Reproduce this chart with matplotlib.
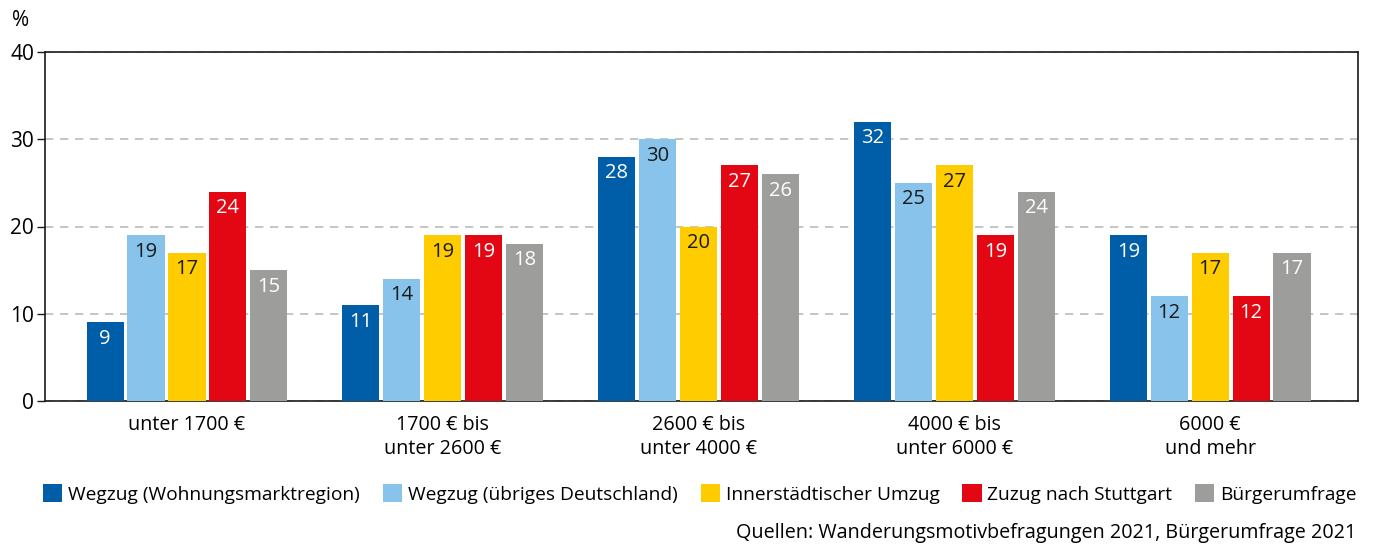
import numpy as np
import matplotlib.pyplot as plt

plt.rcParams['font.family'] = ['Open Sans', 'DejaVu Sans']

# data
categories = ['unter 1700 €', '1700 € bis\nunter 2600 €', '2600 € bis\nunter 4000 €',
              '4000 € bis\nunter 6000 €', '6000 €\nund mehr']
series = ['Wegzug (Wohnungsmarktregion)', 'Wegzug (übriges Deutschland)',
          'Innerstädtischer Umzug', 'Zuzug nach Stuttgart', 'Bürgerumfrage']
wegzug_wmr = [9, 11, 28, 32, 19]
wegzug_de = [19, 14, 30, 25, 12]
innerstaedt = [17, 19, 20, 27, 17]
zuzug = [24, 19, 27, 19, 12]
buergerumfrage = [15, 18, 26, 24, 17]
values = [wegzug_wmr, wegzug_de, innerstaedt, zuzug, buergerumfrage]

colors = ['#005EA8', '#87C3EA', '#FFCC00', '#E30613', '#9D9D9C']
text_colors = ['white', '#1a1a1a', '#1a1a1a', 'white', 'white']

fig = plt.figure(figsize=(13.73, 5.49), dpi=100)
ax = fig.add_axes([45/1373, 1 - 401/549, 1313/1373, 349/549])

x = np.arange(len(categories))
step = 0.16
width = 0.145
for i, (vals, c, tc, name) in enumerate(zip(values, colors, text_colors, series)):
    pos = x + (i - 2) * step
    ax.bar(pos, vals, width=width, color=c, label=name, zorder=3)
    for p, v in zip(pos, vals):
        ax.text(p, v - 0.75, str(v), ha='center', va='top', color=tc, fontsize=14.5, zorder=4)

ax.set_xlim(-0.555, 4.578)
ax.set_ylim(0, 40)
ax.set_yticks([0, 10, 20, 30, 40])
ax.tick_params(axis='y', labelsize=15, length=6, width=1, color='#1a1a1a', pad=2)
ax.set_xticks(x)
ax.set_xticklabels(categories, fontsize=14.2, linespacing=1.3)
ax.tick_params(axis='x', length=0, pad=10)
ax.yaxis.grid(True, linestyle=(0, (5, 4)), color='#bbbbbb', linewidth=1.2, zorder=0)
for s in ax.spines.values():
    s.set_color('#1a1a1a')
    s.set_linewidth(1.2)

fig.text(12/1373, 1 - 21/549, '%', fontsize=15, va='center', ha='left')

handles, labels = ax.get_legend_handles_labels()
fig.legend(handles, labels, loc='center', bbox_to_anchor=(700/1373, 1 - 494/549), ncol=5,
           frameon=False, fontsize=13.8, handlelength=1.0, handleheight=1.0,
           handletextpad=0.3, columnspacing=1.2)

fig.text(1356/1373, 1 - 533/549, 'Quellen: Wanderungsmotivbefragungen 2021, Bürgerumfrage 2021',
         fontsize=14.2, ha='right', va='center')

fig.savefig('out.png', dpi=100)
